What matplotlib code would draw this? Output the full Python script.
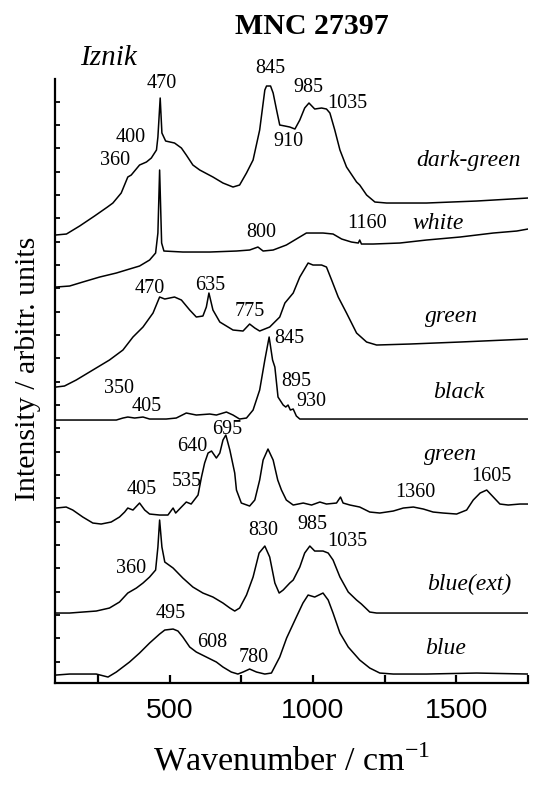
import numpy as np
import matplotlib
matplotlib.use('Agg')
import matplotlib.pyplot as plt
from matplotlib.ticker import FixedLocator

plt.rcParams['font.family'] = ['Liberation Serif', 'DejaVu Serif']
plt.rcParams['mathtext.fontset'] = 'custom'
plt.rcParams['mathtext.rm'] = 'Liberation Serif'

# spectra (wavenumber / stacked intensity)
dark_green_wn = [102, 140, 186, 238, 283, 302, 331, 354, 366, 395, 419, 436, 454, 459, 467, 473, 486, 517, 541, 558,
                 581, 605, 651, 686, 721, 744, 768, 791, 814, 832, 838, 852, 861, 873, 884, 902, 919, 937, 954, 971,
                 986, 1006, 1030, 1047, 1059, 1076, 1094, 1117, 1152, 1163, 1187, 1216, 1257, 1396, 1571, 1750]
dark_green_int = [448, 449, 457, 467, 476, 480, 490, 506, 508, 518, 521, 525, 533, 546, 585, 550, 542, 540, 535, 528,
                  518, 513, 506, 500, 496, 498, 510, 523, 553, 593, 597, 597, 590, 573, 558, 557, 556, 554, 563, 575,
                  580, 574, 575, 574, 570, 553, 533, 516, 501, 498, 488, 481, 480, 480, 482, 485]

white_wn = [104, 151, 197, 256, 314, 360, 395, 430, 451, 459, 465, 472, 480, 546, 640, 733, 779, 808, 826, 861,
            907, 942, 977, 1035, 1070, 1100, 1134, 1158, 1163, 1169, 1210, 1303, 1396, 1513, 1629, 1711, 1750]
white_int = [396, 397, 401, 406, 410, 414, 417, 423, 430, 450, 513, 440, 432, 431, 431, 432, 433, 436, 432, 433,
             438, 444, 450, 450, 449, 444, 441, 440, 443, 439, 439, 440, 443, 446, 450, 452, 454]

green1_wn = [104, 133, 174, 232, 290, 337, 372, 407, 442, 465, 483, 517, 541, 570, 593, 616, 628, 637, 651, 675,
             721, 756, 779, 797, 814, 849, 884, 902, 931, 954, 983, 1000, 1030, 1047, 1065, 1088, 1117, 1152, 1187, 1222,
             1338, 1513, 1750]
green1_int = [296, 297, 303, 313, 323, 333, 346, 356, 370, 386, 384, 386, 383, 373, 366, 367, 376, 390, 373, 361,
              353, 352, 359, 355, 352, 356, 366, 380, 390, 406, 420, 418, 418, 416, 403, 386, 370, 350, 341, 338,
              339, 341, 344]

black_wn = [104, 267, 314, 337, 354, 378, 407, 430, 488, 523, 558, 593, 640, 663, 698, 721, 744, 768, 791, 814,
            832, 847, 859, 867, 878, 896, 905, 913, 921, 931, 942, 954, 1163, 1513, 1750]
black_int = [263, 263, 263, 265, 266, 265, 266, 264, 264, 265, 270, 268, 269, 268, 271, 268, 264, 265, 273, 293,
             323, 346, 323, 316, 286, 278, 276, 278, 273, 274, 267, 264, 264, 264, 264]

green2_wn = [104, 139, 162, 197, 232, 261, 296, 325, 343, 354, 372, 395, 413, 430, 465, 494, 512, 521, 541, 558,
             575, 599, 611, 622, 634, 646, 663, 675, 686, 696, 710, 727, 733, 750, 779, 797, 814, 826, 843, 861,
             877, 890, 907, 931, 966, 995, 1024, 1047, 1082, 1096, 1105, 1129, 1163, 1198, 1233, 1280, 1315, 1350, 1385, 1419,
             1454, 1501, 1536, 1559, 1583, 1606, 1629, 1652, 1681, 1722, 1750]
green2_int = [175, 176, 173, 166, 160, 159, 161, 166, 171, 175, 173, 180, 173, 169, 168, 168, 175, 170, 176, 181,
              179, 188, 206, 220, 230, 232, 225, 230, 243, 248, 233, 210, 193, 180, 177, 183, 203, 223, 234, 223,
              203, 193, 183, 178, 180, 178, 181, 179, 180, 186, 180, 178, 176, 171, 170, 172, 175, 176, 174, 171,
              170, 169, 173, 183, 190, 193, 186, 179, 178, 179, 179]

blue_ext_wn = [104, 151, 197, 244, 290, 325, 354, 384, 407, 430, 451, 459, 465, 473, 483, 512, 546, 581, 616, 651,
               686, 710, 727, 744, 768, 791, 812, 832, 849, 867, 882, 896, 919, 931, 954, 971, 989, 1006, 1035, 1053,
               1070, 1094, 1123, 1152, 1169, 1198, 1222, 1396, 1571, 1750]
blue_ext_int = [70, 70, 71, 72, 75, 81, 90, 95, 100, 106, 113, 136, 163, 136, 121, 115, 105, 96, 90, 86,
                80, 75, 72, 75, 88, 106, 130, 137, 126, 100, 90, 93, 100, 103, 116, 130, 137, 132, 132, 130,
                123, 106, 91, 83, 79, 71, 70, 70, 70, 70]

blue_wn = [104, 151, 197, 244, 285, 314, 360, 395, 430, 465, 483, 512, 529, 546, 570, 593, 628, 663, 686, 715,
           738, 756, 779, 803, 832, 855, 884, 908, 942, 965, 983, 1006, 1035, 1053, 1070, 1094, 1123, 1163, 1198, 1233,
           1280, 1396, 1571, 1750]
blue_int = [8, 9, 9, 9, 6, 11, 21, 30, 40, 49, 53, 54, 52, 46, 36, 31, 26, 21, 16, 11,
            9, 11, 14, 11, 9, 10, 26, 45, 66, 80, 88, 86, 90, 83, 70, 50, 36, 23, 15, 10,
            9, 9, 10, 9]

spectra = [(dark_green_wn, dark_green_int), (white_wn, white_int), (green1_wn, green1_int),
           (black_wn, black_int), (green2_wn, green2_int), (blue_ext_wn, blue_ext_int), (blue_wn, blue_int)]

# sample names and peak labels
sample_names = [('dark-green', 1544, 523), ('white', 1436, 460), ('green', 1484, 367), ('black', 1509, 291),
                ('green', 1481, 229), ('blue(ext)', 1544, 99), ('blue', 1464, 35)]
peak_labels = [('470', 471, 600), ('400', 364, 546), ('360', 311, 523), ('845', 852, 615), ('985', 983, 596),
               ('1035', 1120, 580), ('910', 916, 542), ('1160', 1187, 460), ('800', 818, 451),
               ('470', 430, 395), ('635', 640, 398), ('775', 779, 372),
               ('845', 919, 345), ('895', 940, 302), ('930', 995, 282), ('350', 322, 295), ('405', 421, 277),
               ('695', 701, 254), ('640', 579, 237), ('535', 558, 202), ('405', 404, 194), ('1605', 1623, 207),
               ('1360', 1356, 191), ('830', 828, 153), ('985', 999, 159), ('1035', 1120, 142), ('360', 366, 115),
               ('495', 503, 70), ('608', 650, 41), ('780', 793, 26)]

fig = plt.figure(figsize=(5.38, 7.87), dpi=100)
ax = fig.add_axes([0.1022, 0.1321, 0.8792, 0.7675])

for wn, inten in spectra:
    ax.plot(wn, inten, color='black', lw=1.1)

for name, x, y in sample_names:
    ax.text(x, y, name, fontsize=17, style='italic', ha='center', va='center')
for lab, x, y in peak_labels:
    ax.text(x, y, lab, fontsize=14.5, ha='center', va='center')

ax.set_xlim(100, 1750)
ax.set_ylim(0, 604)

for s in ['top', 'right']:
    ax.spines[s].set_visible(False)
for s in ['left', 'bottom']:
    ax.spines[s].set_linewidth(1.6)

ax.set_xticks([250, 500, 750, 1000, 1250, 1500, 1750])
ax.set_xticklabels(['', '500', '', '1000', '', '1500', ''], fontfamily='Liberation Sans', fontsize=20.5)
ax.tick_params(axis='x', direction='in', length=6, width=1.6, pad=11)

ax.yaxis.set_major_locator(FixedLocator(np.arange(21.3, 605, 23.33)))
ax.set_yticklabels([])
ax.tick_params(axis='y', direction='in', length=3.5, width=1.3)

ax.set_xlabel('Wavenumber / cm$^{\\mathregular{-1}}$', fontsize=24.5, labelpad=15)
ax.set_ylabel('Intensity / arbitr. units', fontsize=21.5)
ax.yaxis.set_label_coords(-0.03, 0.52)

fig.text(312 / 538, 1 - 26 / 787, 'MNC 27397', fontsize=21.5, fontweight='bold', ha='center', va='center')
fig.text(108 / 538, 1 - 58 / 787, 'Iznik', fontsize=21, style='italic', ha='center', va='center')

fig.savefig('out.png', dpi=100)
